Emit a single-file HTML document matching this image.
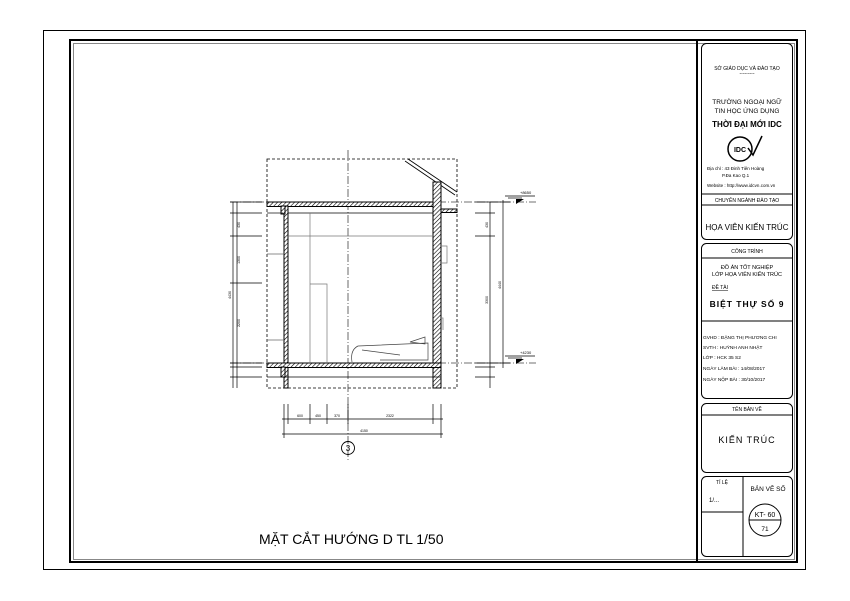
<!DOCTYPE html>
<html><head><meta charset="utf-8"><style>
html,body{margin:0;padding:0;background:#fff;}
svg{display:block;}
text{font-family:"Liberation Sans",sans-serif;fill:#000;}
</style></head><body>
<svg width="850" height="601" viewBox="0 0 850 601" xmlns="http://www.w3.org/2000/svg">
<defs>
<pattern id="h" width="3" height="3" patternUnits="userSpaceOnUse" patternTransform="rotate(45)">
<rect width="3" height="3" fill="#fff"/><line x1="0" y1="0" x2="0" y2="3" stroke="#000" stroke-width="1.2"/>
</pattern>
</defs>
<!-- frames -->
<rect x="43.5" y="30.5" width="762" height="539" fill="none" stroke="#000" stroke-width="1"/>
<rect x="70" y="40" width="727" height="522" fill="none" stroke="#000" stroke-width="2"/>
<rect x="73.5" y="43.5" width="721" height="516" fill="none" stroke="#888" stroke-width="1"/>
<line x1="697" y1="41" x2="697" y2="561" stroke="#000" stroke-width="2"/>
<!-- title block boxes -->
<g fill="none" stroke="#000" stroke-width="1">
<rect x="701.5" y="43.5" width="91" height="196" rx="5"/>
<line x1="702" y1="194" x2="792" y2="194"/><line x1="702" y1="205" x2="792" y2="205"/>
<rect x="701.5" y="243.5" width="91" height="155" rx="5"/>
<line x1="702" y1="258" x2="792" y2="258"/><line x1="702" y1="321" x2="792" y2="321"/>
<rect x="701.5" y="403.5" width="91" height="69" rx="5"/>
<line x1="702" y1="415" x2="792" y2="415"/>
<rect x="701.5" y="476.5" width="91" height="80" rx="5"/>
<line x1="743" y1="477" x2="743" y2="556"/><line x1="702" y1="512" x2="743" y2="512"/>
<circle cx="765" cy="520" r="16"/><line x1="749" y1="520" x2="781" y2="520"/>
<circle cx="740" cy="149" r="12" stroke-width="1.5"/>
</g>
<g font-size="5" text-anchor="middle">
<text x="747" y="70">SỞ GIÁO DỤC VÀ ĐÀO TẠO</text>
<text x="747" y="75">---------</text>
</g>
<g font-size="6.5" text-anchor="middle">
<text x="747" y="104">TRƯỜNG NGOẠI NGỮ</text>
<text x="747" y="113">TIN HỌC ỨNG DỤNG</text>
</g>
<text x="747" y="127" font-size="8" font-weight="bold" text-anchor="middle">THỜI ĐẠI MỚI IDC</text>
<text x="740" y="152" font-size="7" font-weight="bold" text-anchor="middle" font-family="Liberation Serif">IDC</text>
<path d="M748 148 L753 155 L762 136" fill="none" stroke="#000" stroke-width="1.5"/>
<g font-size="4.5">
<text x="707" y="170">Địa chỉ  : 43 Đinh Tiên Hoàng</text>
<text x="722" y="177">P.Đa Kao   Q.1</text>
<text x="707" y="187">Website : http://www.idcvn.com.vn</text>
</g>
<text x="747" y="202" font-size="5" text-anchor="middle">CHUYÊN NGÀNH ĐÀO TẠO</text>
<text x="747" y="230" font-size="8" text-anchor="middle">HỌA VIÊN KIẾN TRÚC</text>
<text x="747" y="253" font-size="5" text-anchor="middle">CÔNG TRÌNH</text>
<text x="747" y="269" font-size="5.5" text-anchor="middle">ĐỒ ÁN TỐT NGHIỆP</text>
<text x="747" y="276" font-size="5.5" text-anchor="middle">LỚP HỌA VIÊN KIẾN TRÚC</text>
<text x="712" y="289" font-size="5" text-decoration="underline">ĐỀ TÀI</text>
<text x="747" y="307" font-size="8.5" font-weight="bold" text-anchor="middle" letter-spacing="1">BIỆT THỰ SỐ 9</text>
<g font-size="4.8">
<text x="703" y="339">GVHD  : ĐẶNG THỊ PHƯƠNG CHI</text>
<text x="703" y="349">SVTH   : HUỲNH ANH NHẬT</text>
<text x="703" y="359">LỚP     : HCK 35 S2</text>
<text x="703" y="370">NGÀY LÀM BÀI    : 14/08/2017</text>
<text x="703" y="381">NGÀY NỘP BÀI    : 30/10/2017</text>
</g>
<text x="747" y="411" font-size="5" text-anchor="middle">TÊN BẢN VẼ</text>
<text x="747" y="443" font-size="9" text-anchor="middle" letter-spacing="1">KIẾN TRÚC</text>
<text x="722" y="484" font-size="5" text-anchor="middle">TỈ LỆ</text>
<text x="709" y="502" font-size="6">1/...</text>
<text x="768" y="491" font-size="6.5" text-anchor="middle">BẢN VẼ SỐ</text>
<text x="765" y="517" font-size="7" text-anchor="middle">KT- 60</text>
<text x="765" y="531" font-size="6.5" text-anchor="middle">71</text>

<!-- drawing -->
<g stroke="#000" fill="none" stroke-width="0.8">
<rect x="267" y="159" width="190" height="229" stroke-dasharray="3,2"/>
<line x1="348" y1="150" x2="348" y2="460" stroke-dasharray="8,2,1,2" stroke="#444"/>
<line x1="230" y1="202" x2="536" y2="202" stroke-dasharray="8,2,1,2" stroke="#444"/>
<line x1="230" y1="363" x2="536" y2="363" stroke-dasharray="8,2,1,2" stroke="#444"/>
<!-- roof slope -->
<line x1="408" y1="159" x2="457" y2="192"/><line x1="405" y1="161" x2="455" y2="195"/>
</g>
<g stroke="#000" stroke-width="1" fill="url(#h)">
<rect x="267" y="202" width="174" height="4.5"/>
<rect x="284" y="206" width="4" height="182"/>
<rect x="433" y="182" width="8" height="206"/>
<rect x="267" y="363" width="174" height="4.5"/>
<rect x="441" y="209" width="16" height="3.5"/>
<rect x="281" y="206" width="4" height="8"/><rect x="281" y="367" width="4" height="10"/>
</g>
<g stroke="#000" stroke-width="0.7" fill="none">
<line x1="288" y1="213" x2="433" y2="213"/>
<line x1="281" y1="377" x2="441" y2="377"/>
<line x1="267" y1="213" x2="283" y2="213"/>
<line x1="267" y1="377" x2="283" y2="377"/>
<!-- interior -->
<line x1="310" y1="213" x2="310" y2="363" stroke="#777"/>
<line x1="288" y1="236" x2="433" y2="236" stroke="#777"/>
<path d="M310 284 H327 V363" stroke="#777"/>
<path d="M441 246 H447 V263 H441" stroke="#777"/>
<path d="M441 318 H443 V330" stroke="#777"/>
<path d="M352 362 Q350 350 358 346 L428 343 L428 360 L380 360" stroke="#444"/>
<path d="M410 342 L425 337 L425 344 Z" stroke="#444"/>
<line x1="362" y1="350" x2="400" y2="355" stroke="#444"/>
<line x1="267" y1="254" x2="284" y2="254" stroke="#666"/>
<line x1="267" y1="340" x2="284" y2="340" stroke="#666"/>
<!-- left dims -->
<line x1="233" y1="202" x2="233" y2="388"/>
<line x1="237" y1="202" x2="237" y2="388"/>
<line x1="230" y1="202" x2="262" y2="202"/><line x1="230" y1="213" x2="262" y2="213"/>
<line x1="230" y1="236" x2="262" y2="236"/><line x1="230" y1="283" x2="262" y2="283"/>
<line x1="230" y1="363" x2="262" y2="363"/><line x1="230" y1="367" x2="262" y2="367"/>
<line x1="230" y1="377" x2="262" y2="377"/>
<!-- right dims -->
<line x1="490" y1="202" x2="490" y2="388"/><line x1="503" y1="200" x2="503" y2="368"/>
<line x1="475" y1="202" x2="510" y2="202"/><line x1="475" y1="213" x2="495" y2="213"/>
<line x1="475" y1="236" x2="495" y2="236"/><line x1="475" y1="363" x2="510" y2="363"/>
<line x1="475" y1="367" x2="495" y2="367"/><line x1="475" y1="377" x2="495" y2="377"/>
<!-- bottom dims -->
<line x1="284" y1="404" x2="284" y2="438"/><line x1="288" y1="404" x2="288" y2="424"/>
<line x1="310" y1="404" x2="310" y2="424"/><line x1="327" y1="404" x2="327" y2="424"/>
<line x1="348" y1="404" x2="348" y2="424"/><line x1="433" y1="404" x2="433" y2="424"/>
<line x1="441" y1="404" x2="441" y2="438"/>
<line x1="282" y1="419" x2="443" y2="419"/><line x1="282" y1="434" x2="443" y2="434"/>
<circle cx="348" cy="448" r="6.5" stroke-width="0.9"/>
<!-- level marks -->
<line x1="505" y1="196" x2="535" y2="196"/><line x1="508" y1="198" x2="522" y2="198"/>
<line x1="505" y1="356" x2="535" y2="356"/><line x1="508" y1="358" x2="522" y2="358"/>
</g>
<path d="M516 199 L524 199 L516 204 Z" fill="#000"/>
<path d="M516 359 L524 359 L516 364 Z" fill="#000"/>
<g font-size="4" fill="#000">
<text x="520" y="194">+8650</text><text x="520" y="354">+4230</text>
<text x="300" y="417" font-size="3.5" text-anchor="middle">600</text>
<text x="318" y="417" font-size="3.5" text-anchor="middle">450</text>
<text x="337" y="417" font-size="3.5" text-anchor="middle">370</text>
<text x="390" y="417" font-size="3.5" text-anchor="middle">2322</text>
<text x="364" y="432" font-size="3.5" text-anchor="middle">4150</text>
</g>
<g font-size="3.5" text-anchor="middle">
<text transform="translate(231,295) rotate(-90)">4430</text>
<text transform="translate(240,225) rotate(-90)">430</text>
<text transform="translate(240,260) rotate(-90)">1300</text>
<text transform="translate(240,323) rotate(-90)">2200</text>
<text transform="translate(501,285) rotate(-90)">4440</text>
<text transform="translate(488,225) rotate(-90)">430</text>
<text transform="translate(488,300) rotate(-90)">3300</text>
</g>
<text x="348" y="451" font-size="8" text-anchor="middle">3</text>
<text x="259" y="544" font-size="14">MẶT CẮT HƯỚNG D TL 1/50</text>
</svg>
</body></html>
